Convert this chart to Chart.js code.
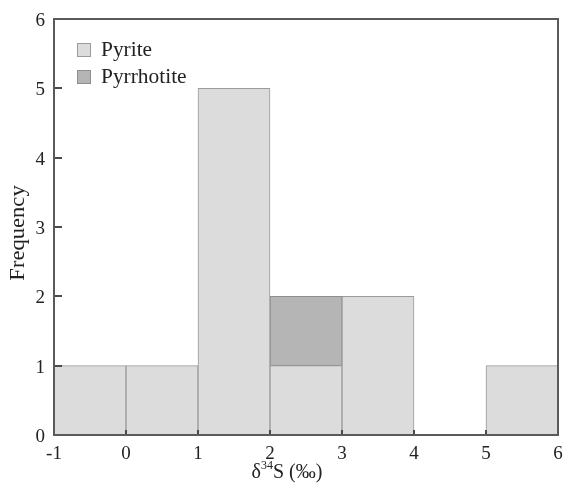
<!DOCTYPE html>
<html>
<head>
<meta charset="utf-8">
<script src="https://cdn.jsdelivr.net/npm/chart.js@4/dist/chart.umd.min.js"></script>
<style>
  html, body { margin: 0; padding: 0; background: #fff; }
  #wrap { width: 564px; height: 483px; }
</style>
</head>
<body>
<div id="wrap"><canvas id="histChart" width="564" height="483"></canvas></div>
<script>
// bins of width 1 between -1 and 6 per mil
const binCenters = [-0.5, 0.5, 1.5, 2.5, 3.5, 4.5, 5.5];
const pyriteCounts = [1, 1, 5, 1, 2, 0, 1];
const pyrrhotiteCounts = [0, 0, 0, 1, 0, 0, 0];
const xTicks = [-1, 0, 1, 2, 3, 4, 5, 6];
const yTicks = [0, 1, 2, 3, 4, 5, 6];

const FONT = "'Liberation Serif', 'Times New Roman', serif";
const AXIS = '#4a4a4a';

function toPoints(counts) {
    return binCenters.map((c, i) => ({ x: c, y: counts[i] > 0 ? counts[i] : null }));
}

// frame, inward ticks, legend and axis titles
const decorPlugin = {
    id: 'decor',
    afterDraw(chart) {
        const ctx = chart.ctx;
        const area = chart.chartArea;
        const xs = chart.scales.x;
        const ys = chart.scales.y;
        ctx.save();

        // tick marks pointing into the plot
        ctx.strokeStyle = AXIS;
        ctx.lineWidth = 2;
        ctx.beginPath();
        yTicks.forEach(v => {
            const py = Math.round(ys.getPixelForValue(v));
            ctx.moveTo(area.left, py);
            ctx.lineTo(area.left + 8, py);
        });
        xTicks.forEach(v => {
            const px = Math.round(xs.getPixelForValue(v));
            ctx.moveTo(px, area.bottom);
            ctx.lineTo(px, area.bottom - 5);
        });
        ctx.stroke();

        // frame
        ctx.strokeStyle = '#5a5a5a';
        ctx.lineWidth = 2;
        ctx.strokeRect(area.left, area.top, area.right - area.left, area.bottom - area.top);

        // legend
        ctx.textBaseline = 'middle';
        ctx.textAlign = 'left';
        chart.data.datasets.forEach((ds, i) => {
            const by = 43 + i * 27;
            ctx.fillStyle = ds.backgroundColor;
            ctx.fillRect(77, by, 14, 14);
            ctx.strokeStyle = ds.borderColor;
            ctx.lineWidth = 1;
            ctx.strokeRect(77.5, by + 0.5, 13, 13);
            ctx.fillStyle = '#222';
            ctx.save();
            ctx.translate(101, by + 8);
            ctx.scale(1.07, 1);
            ctx.font = '20px ' + FONT;
            ctx.fillText(ds.label, 0, 0);
            ctx.restore();
        });

        // y title
        ctx.save();
        ctx.translate(19, 233);
        ctx.rotate(-Math.PI / 2);
        ctx.scale(1.13, 1);
        ctx.textAlign = 'center';
        ctx.fillStyle = '#222';
        ctx.font = '20px ' + FONT;
        ctx.fillText('Frequency', 0, 0);
        ctx.restore();

        // x title with superscript
        const cx = 287;
        const ty = 473;
        ctx.fillStyle = '#222';
        ctx.textAlign = 'left';
        ctx.font = '20px ' + FONT;
        const p1 = 'δ';
        const p3 = 'S (‰)';
        const w1 = ctx.measureText(p1).width;
        const w3 = ctx.measureText(p3).width;
        ctx.font = '12px ' + FONT;
        const w2 = ctx.measureText('34').width;
        let sx = cx - (w1 + w2 + w3) / 2;
        ctx.font = '20px ' + FONT;
        ctx.fillText(p1, sx, ty);
        ctx.font = '12px ' + FONT;
        ctx.fillText('34', sx + w1, ty - 7);
        ctx.font = '20px ' + FONT;
        ctx.fillText(p3, sx + w1 + w2, ty);

        ctx.restore();
    }
};

new Chart(document.getElementById('histChart'), {
    type: 'bar',
    data: {
        datasets: [
            {
                label: 'Pyrite',
                data: toPoints(pyriteCounts),
                backgroundColor: '#dcdcdc',
                borderColor: '#9a9a9a',
                borderWidth: 1,
                barPercentage: 1,
                categoryPercentage: 1,
                borderSkipped: false
            },
            {
                label: 'Pyrrhotite',
                data: toPoints(pyrrhotiteCounts),
                backgroundColor: '#b4b5b4',
                borderColor: '#8e8e8e',
                borderWidth: 1,
                barPercentage: 1,
                categoryPercentage: 1,
                borderSkipped: false
            }
        ]
    },
    options: {
        responsive: false,
        animation: false,
        layout: { padding: { top: 19, right: 6, left: 0, bottom: 0 } },
        plugins: {
            legend: { display: false },
            tooltip: { enabled: false }
        },
        scales: {
            x: {
                type: 'linear',
                stacked: true,
                min: -1,
                max: 6,
                offset: false,
                afterFit(scale) {
                    scale.height = 48;
                    scale.paddingLeft = 0;
                    scale.paddingRight = 0;
                },
                afterBuildTicks(scale) { scale.ticks = xTicks.map(v => ({ value: v })); },
                grid: { display: false, drawTicks: false },
                border: { display: false },
                ticks: {
                    color: '#222',
                    padding: 8,
                    font: { family: FONT, size: 19 }
                }
            },
            y: {
                stacked: true,
                min: 0,
                max: 6,
                afterFit(scale) {
                    scale.width = 54;
                    scale.paddingTop = 0;
                    scale.paddingBottom = 0;
                },
                afterBuildTicks(scale) { scale.ticks = yTicks.map(v => ({ value: v })); },
                grid: { display: false, drawTicks: false },
                border: { display: false },
                ticks: {
                    color: '#222',
                    padding: 9,
                    labelOffset: 2,
                    font: { family: FONT, size: 19 }
                }
            }
        }
    },
    plugins: [decorPlugin]
});
</script>
</body>
</html>
